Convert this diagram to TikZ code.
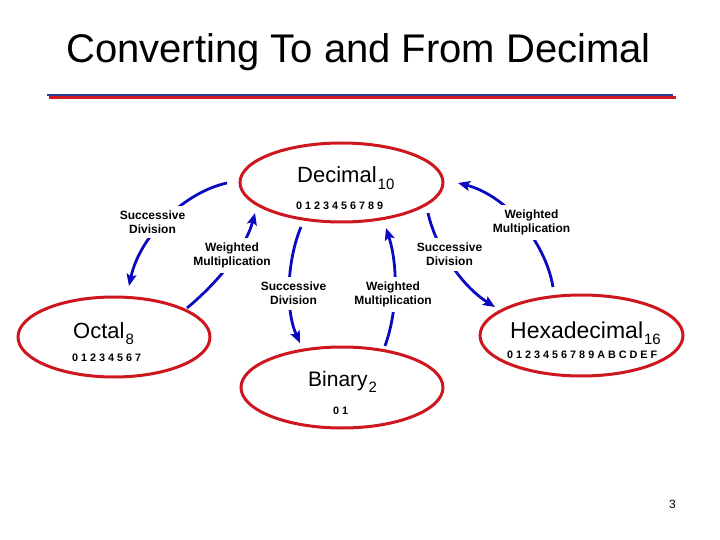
\documentclass[tikz,border=0pt]{standalone}
\usepackage{fontspec}
\setmainfont{Liberation Sans}
\usetikzlibrary{shapes.geometric,arrows.meta}
\definecolor{ellred}{RGB}{206,22,30}
\definecolor{arrblue}{RGB}{10,10,190}
\definecolor{rulebl}{RGB}{40,60,160}
\definecolor{rulerd}{RGB}{205,25,30}
\tikzset{
  numsys/.style={draw=ellred, line width=3pt, ellipse, inner sep=0pt},
  wordtxt/.style={anchor=base west, inner sep=0pt},
  digtxt/.style={anchor=base west, inner sep=0pt, font=\fontsize{10.8}{12}\selectfont\bfseries},
  methlbl/.style={align=center, fill=white, inner xsep=3pt, inner ysep=5pt, font=\fontsize{12}{14}\selectfont\bfseries},
  convarr/.style={draw=arrblue, line width=2.8pt, -{Stealth[length=12pt,width=10pt,inset=2.5pt]}},
}
\newcommand{\subn}[1]{\kern1pt\raisebox{-6pt}{\fontsize{15}{15}\selectfont #1}}
\begin{document}
\begin{tikzpicture}[x=1pt,y=-1pt]
\useasboundingbox (0,0) rectangle (720,540);
% title
\node[anchor=base, inner sep=0pt, font=\fontsize{40}{44}\selectfont] (title) at (358.5,63) {Converting To and From Decimal};
\draw[rulebl, line width=2.6pt] (47,95) -- (673,95);
\draw[rulerd, line width=2.4pt] (49,97.6) -- (676,97.6);
% ellipses
\node[numsys, minimum width=203pt, minimum height=79pt] (dec) at (341.5,182.5) {};
\node[numsys, minimum width=192pt, minimum height=80pt] (oct) at (114,337) {};
\node[numsys, minimum width=203pt, minimum height=81pt] (hex) at (581.5,335.5) {};
\node[numsys, minimum width=202pt, minimum height=81pt] (bin) at (342,387.5) {};
% texts
\node[wordtxt, font=\fontsize{22}{24}\selectfont] (decT) at (297,183) {Decimal\subn{10}};
\node[digtxt] (decD) at (296,210) {0 1 2 3 4 5 6 7 8 9};
\node[wordtxt, font=\fontsize{22}{24}\selectfont] (octT) at (73,338) {Octal\subn{8}};
\node[digtxt] (octD) at (72,361.5) {0 1 2 3 4 5 6 7};
\node[wordtxt, font=\fontsize{23}{25}\selectfont] (hexT) at (510,338) {Hexadecimal\subn{16}};
\node[digtxt] (hexD) at (507,358) {0 1 2 3 4 5 6 7 8 9 A B C D E F};
\node[wordtxt, font=\fontsize{21}{23}\selectfont] (binT) at (308,386) {Binary\subn{2}};
\node[digtxt] (binD) at (333,414) {0 1};
% arrows
\draw[convarr] ([shift={(-114.5,0.5)}]dec.center) .. controls (185,192) and (140,235) .. ([shift={(15,-51)}]oct.center);
\draw[convarr] ([shift={(73,-29)}]oct.center) .. controls (215,285) and (245,250) .. ([shift={(-86.5,30.5)}]dec.center);
\draw[convarr] ([shift={(-28.5,-48.5)}]hex.center) .. controls (545,240) and (505,195) .. ([shift={(116.5,0.5)}]dec.center);
\draw[convarr] ([shift={(86.5,30.5)}]dec.center) .. controls (435,245) and (460,285) .. ([shift={(-86.5,-28.5)}]hex.center);
\draw[convarr] ([shift={(-40.5,44.5)}]dec.center) .. controls (287,260) and (285,310) .. ([shift={(-42,-44.5)}]bin.center);
\draw[convarr] ([shift={(43,-41.5)}]bin.center) .. controls (398,310) and (398,265) .. ([shift={(44.5,45.5)}]dec.center);
% labels
\node[methlbl] (l1) at (152.5,222) {Successive\\Division};
\node[methlbl] (l2) at (232,255.5) {Weighted\\Multiplication};
\node[methlbl] (l3) at (531.5,222.5) {Weighted\\Multiplication};
\node[methlbl] (l4) at (449.5,254.5) {Successive\\Division};
\node[methlbl] (l5) at (293.5,293.5) {Successive\\Division};
\node[methlbl] (l6) at (393,294.5) {Weighted\\Multiplication};
% page number
\node[anchor=base, inner sep=0pt, font=\fontsize{12}{14}\selectfont] (pg) at (672.5,508) {3};
\end{tikzpicture}
\end{document}
